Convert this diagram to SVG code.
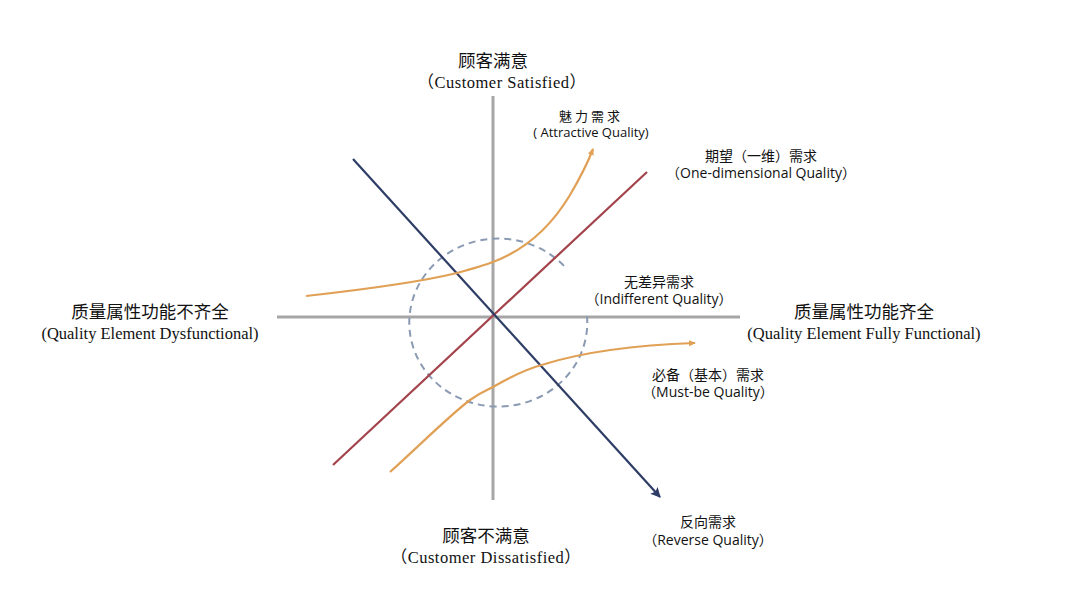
<svg xmlns="http://www.w3.org/2000/svg" width="1080" height="611" viewBox="0 0 1080 611">
<style>
.axis{stroke:#a6a6a6;stroke-width:3;fill:none}
.t1{font-family:"Liberation Serif","Noto Sans CJK SC",serif;font-size:17.5px;fill:#111;text-anchor:middle}
.t2{font-family:"Liberation Serif","Noto Sans CJK SC",serif;font-size:16.5px;fill:#111;text-anchor:middle}
.s1{font-family:"Open Sans","Noto Sans CJK SC",sans-serif;font-size:13px;fill:#111;text-anchor:middle}
.s2{font-family:"Open Sans","Noto Sans CJK SC",sans-serif;font-size:14px;fill:#111;text-anchor:middle}
.orange{stroke:#e0a055;stroke-width:2.2;fill:none}
</style>
<defs>
<marker id="ao" markerWidth="8" markerHeight="8" refX="6" refY="4" orient="auto" markerUnits="userSpaceOnUse">
<path d="M0,1 L7,4 L0,7 Z" fill="#e0a055"/>
</marker>
<marker id="ab" markerWidth="12" markerHeight="12" refX="9" refY="5" orient="auto" markerUnits="userSpaceOnUse">
<path d="M0,0 L10,5 L0,10 L2,5 Z" fill="#2e3d66"/>
</marker>
</defs>
<rect width="1080" height="611" fill="#ffffff"/>
<g id="axes">
<line class="axis" x1="277" y1="317" x2="740" y2="317"/>
<line class="axis" x1="493" y1="96" x2="493" y2="500"/>
</g>
<g id="indifferent-circle">
<path d="M587,316 A89,84 0 1 1 565,267" fill="none" stroke="#8a9ab2" stroke-width="2" stroke-dasharray="7,5"/>
</g>
<g id="connectors">
<line id="one-dimensional" x1="333" y1="465" x2="647" y2="172" stroke="#a3434c" stroke-width="2.2"/>
<line id="reverse" x1="353" y1="159" x2="660" y2="497" stroke="#2e3d66" stroke-width="2.2" marker-end="url(#ab)"/>
<path id="attractive" class="orange" d="M306,296 C360,290 420,282 457,273 C475,268 485,265 493,262 C530,248 555,220 570,195 C580,178 588,162 593,149" marker-end="url(#ao)"/>
<path id="must-be" class="orange" d="M390,472 C420,445 450,415 470,400 C485,390 490,389 493,387 C515,374 530,368 545,364 C590,350 640,345 695,343" marker-end="url(#ao)"/>
</g>
<g id="label-satisfied">
<text class="t1" x="493" y="67">顾客满意</text>
<text class="t2" x="502" y="88" letter-spacing="0.5">（Customer Satisfied）</text>
</g>
<g id="label-attractive">
<text class="s1" x="591" y="121" letter-spacing="3">魅力需求</text>
<text class="s1" x="591" y="137">( Attractive Quality)</text>
</g>
<g id="label-one-dimensional">
<text class="s2" x="761" y="161">期望（一维）需求</text>
<text class="s2" x="761" y="178">（One-dimensional Quality）</text>
</g>
<g id="label-indifferent">
<text class="s2" x="659" y="287">无差异需求</text>
<text class="s2" x="659" y="304">（Indifferent Quality）</text>
</g>
<g id="label-dysfunctional">
<text class="t1" x="150" y="318">质量属性功能不齐全</text>
<text class="t2" x="150" y="339">(Quality Element Dysfunctional)</text>
</g>
<g id="label-functional">
<text class="t1" x="864" y="318">质量属性功能齐全</text>
<text class="t2" x="864" y="339">(Quality Element Fully Functional)</text>
</g>
<g id="label-must-be">
<text class="s2" x="708" y="380">必备（基本）需求</text>
<text class="s2" x="708" y="397">（Must-be Quality）</text>
</g>
<g id="label-reverse">
<text class="s2" x="708" y="527">反向需求</text>
<text class="s2" x="708" y="545">（Reverse Quality）</text>
</g>
<g id="label-dissatisfied">
<text class="t1" x="486" y="542">顾客不满意</text>
<text class="t2" x="486" y="563" letter-spacing="0.5">（Customer Dissatisfied）</text>
</g>
</svg>
